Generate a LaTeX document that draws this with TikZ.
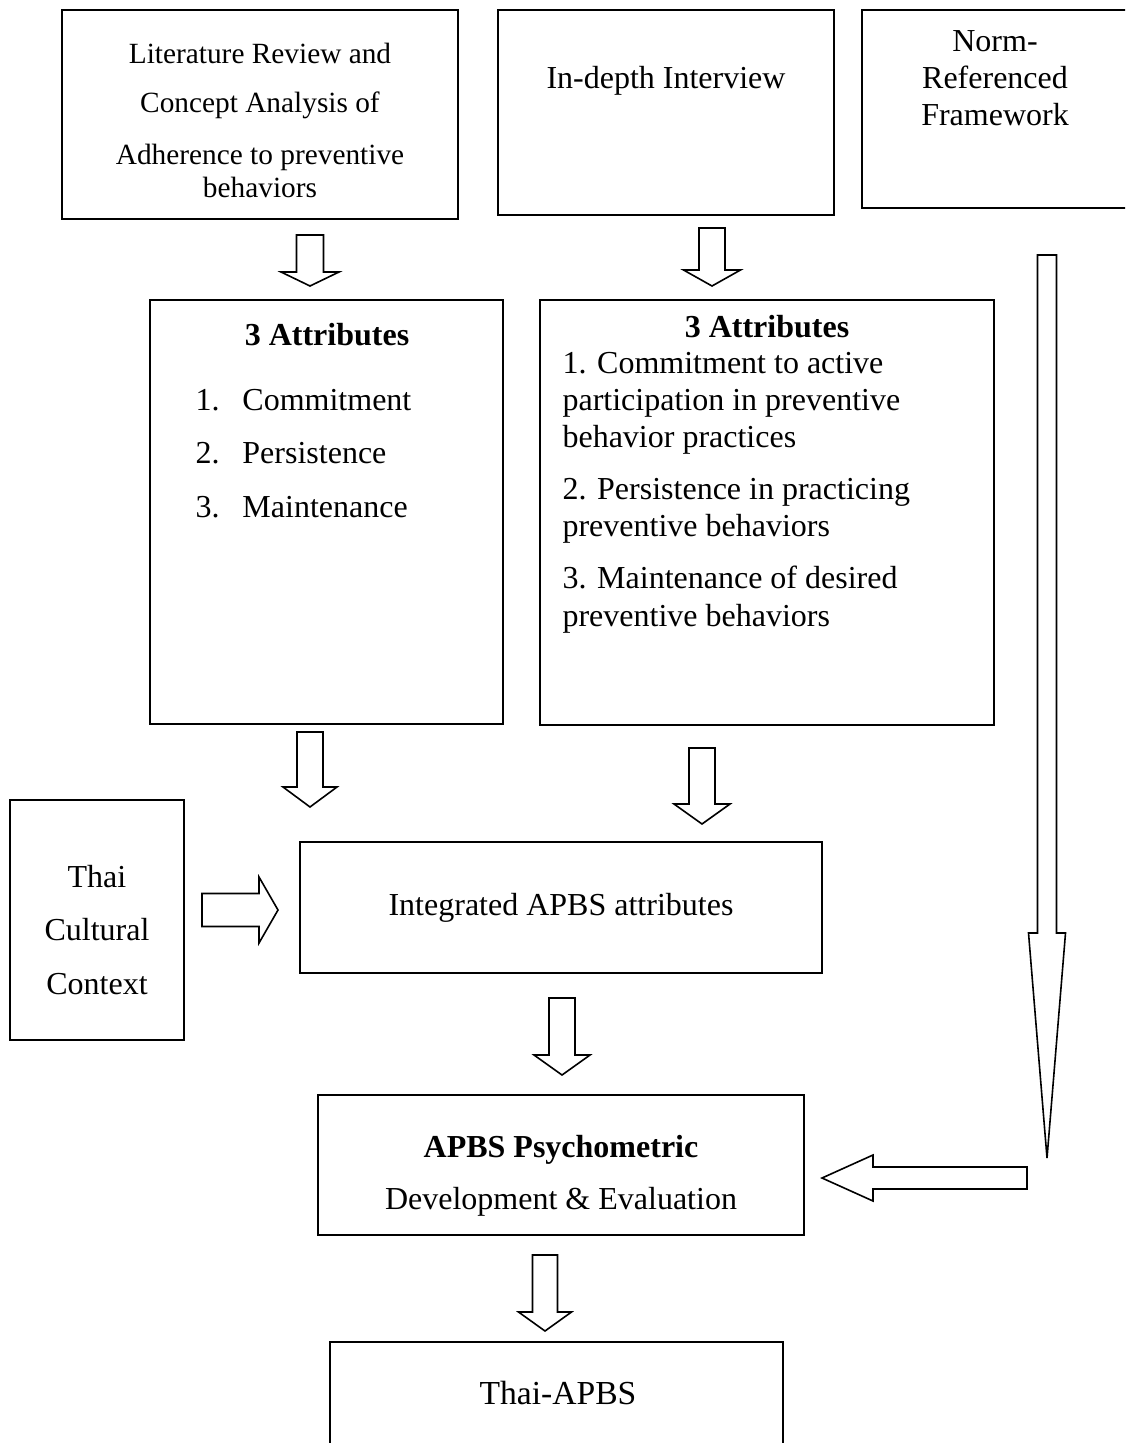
\documentclass[tikz,border=0pt]{standalone}
\usepackage{fontspec}
\setmainfont{Liberation Serif}
\usetikzlibrary{fit}
\newcommand{\pxu}{0.375pt}
% block arrows: vertical {x}{tail}{base}{tip}{shaft}{head}, horizontal {y}{tail}{base}{tip}{shaft}{head}
\newcommand{\blkv}[6]{\draw[blk] (#1-#5,#2)--(#1+#5,#2)--(#1+#5,#3)--(#1+#6,#3)--(#1,#4)--(#1-#6,#3)--(#1-#5,#3)--cycle;}
\newcommand{\blkh}[6]{\draw[blk] (#2,#1-#5)--(#2,#1+#5)--(#3,#1+#5)--(#3,#1+#6)--(#4,#1)--(#3,#1-#6)--(#3,#1-#5)--cycle;}
\tikzset{
	box/.style={draw,line width=0.8pt,inner sep=0pt},
	blk/.style={draw,line width=0.6pt,line join=miter},
	txt/.style={inner sep=0pt,font=\fontsize{12}{13.9}\selectfont},
}
\begin{document}
\begin{tikzpicture}[x=\pxu,y=-\pxu]
	\clip (0,0) rectangle (1125,1443);
	% boxes
	\node[box,fit={(62,10)(458,219)}] (lit) {};
	\node[box,fit={(498,10)(834,215)}] (interview) {};
	\node[box,fit={(862,10)(1130,208)}] (norm) {};
	\node[box,fit={(150,300)(503,724)}] (attrlit) {};
	\node[box,fit={(540,300)(994,725)}] (attrint) {};
	\node[box,fit={(10,800)(184,1040)}] (culture) {};
	\node[box,fit={(300,842)(822,973)}] (integ) {};
	\node[box,fit={(318,1095)(804,1235)}] (psych) {};
	\node[box,fit={(330,1342)(783,1470)}] (thaiapbs) {};
	% texts (base = last line)
	\node[txt,anchor=base,align=center,font=\fontsize{11}{12.65}\selectfont] (littext) at (260,198)
	{Literature Review and\\[5.4pt]Concept Analysis of\\[6.9pt]Adherence to preventive\\behaviors};
	\node[txt,anchor=base] (inttext) at (666,89) {In-depth Interview};
	\node[txt,anchor=base,align=center,font=\fontsize{12}{14}\selectfont] (normtext) at (995,126) {Norm-\\Referenced\\Framework};
	\node[txt,anchor=base] (littitle) at (327,346) {\bfseries 3 Attributes};
	\node[txt,anchor=base west,align=left,font=\fontsize{12}{19.9}\selectfont] (litlist) at (195,517)
	{\makebox[17.6pt][l]{1.}Commitment\\\makebox[17.6pt][l]{2.}Persistence\\\makebox[17.6pt][l]{3.}Maintenance};
	\node[txt,anchor=base] (inttitle) at (767,338) {\bfseries 3 Attributes};
	\node[txt,anchor=base west,align=left] (intlist) at (562,626)
	{1. Commitment to active\\participation in preventive\\behavior practices\\[5.6pt]
	2. Persistence in practicing\\preventive behaviors\\[5.6pt]
	3. Maintenance of desired\\preventive behaviors};
	\node[txt,anchor=base,align=center,font=\fontsize{12}{20}\selectfont] (culttext) at (97,994) {Thai\\Cultural\\Context};
	\node[txt,anchor=base] (integtext) at (561,915) {Integrated APBS attributes};
	\node[txt,anchor=base,align=center,font=\fontsize{12}{19.5}\selectfont] (psychtext) at (561,1209)
	{\textbf{APBS Psychometric}\\Development \& Evaluation};
	\node[txt,anchor=base,font=\fontsize{12.6}{14.5}\selectfont] (thaitext) at (558,1404) {Thai-APBS};
	% arrows
	\foreach \cx/\ta/\ba/\tp/\s/\h in {310/235/272/286/13.5/29,712/228/270/286/13/28.5,
		310/732/787/807/13/27,702/748/804/824/13/28,562/998/1055/1075/13/28,
		545/1255/1312/1331/12.5/26.5,1047/255/933/1158/9.5/18.5}
	\blkv{\cx}{\ta}{\ba}{\tp}{\s}{\h};
	\blkh{910}{202}{259}{278}{16.5}{33}
	\blkh{1178}{1027}{873}{822}{11}{23}
\end{tikzpicture}
\end{document}
